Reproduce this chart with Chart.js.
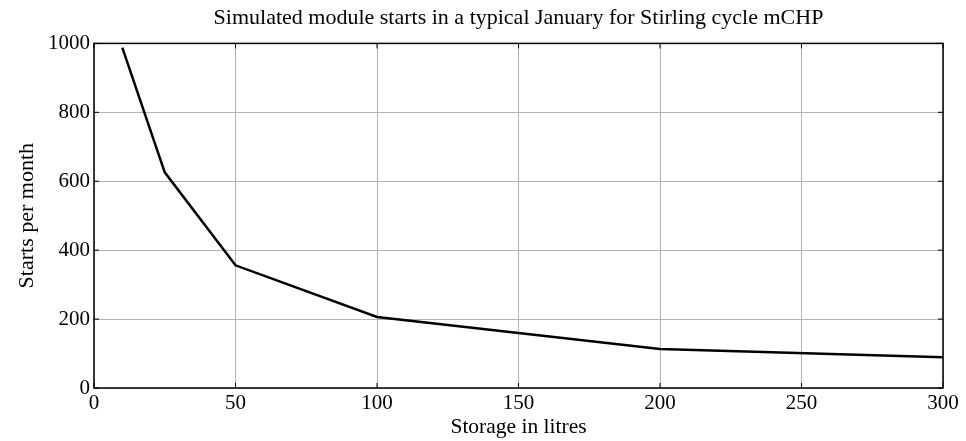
<!DOCTYPE html>
<html>
<head>
<meta charset="utf-8">
<script src="https://cdn.jsdelivr.net/npm/chart.js@4"></script>
<style>
html,body{margin:0;padding:0;background:#fff;}
#wrap{width:966px;height:441px;}
</style>
</head>
<body>
<div id="wrap"><canvas id="c" width="966" height="441"></canvas></div>
<script>
const storageLitres = [10, 25, 50, 100, 200, 300];
const startsPerMonth = [988, 626, 356, 206, 113, 89];
const xTicks = [0, 50, 100, 150, 200, 250, 300];
const yTicks = [0, 200, 400, 600, 800, 1000];
const chartTitle = 'Simulated module starts in a typical January for Stirling cycle mCHP';
const xTitle = 'Storage in litres';
const yTitle = 'Starts per month';

const points = storageLitres.map((x, i) => ({x: x, y: startsPerMonth[i]}));
const FONT = 'Liberation Serif, Times New Roman, serif';

const boxPlugin = {
  id: 'box',
  afterDraw(chart) {
    const a = chart.chartArea, ctx = chart.ctx;
    ctx.save();
    ctx.strokeStyle = '#000';
    ctx.lineWidth = 1.5;
    ctx.strokeRect(a.left, a.top, a.right - a.left, a.bottom - a.top);
    ctx.lineWidth = 1;
    const xs = chart.scales.x, ys = chart.scales.y;
    xTicks.forEach(v => {
      const px = xs.getPixelForValue(v);
      ctx.beginPath(); ctx.moveTo(px, a.bottom); ctx.lineTo(px, a.bottom - 5); ctx.stroke();
      ctx.beginPath(); ctx.moveTo(px, a.top); ctx.lineTo(px, a.top + 5); ctx.stroke();
    });
    yTicks.forEach(v => {
      const py = ys.getPixelForValue(v);
      ctx.beginPath(); ctx.moveTo(a.left, py); ctx.lineTo(a.left + 5, py); ctx.stroke();
      ctx.beginPath(); ctx.moveTo(a.right, py); ctx.lineTo(a.right - 5, py); ctx.stroke();
    });
    ctx.restore();
  }
};

new Chart(document.getElementById('c'), {
  type: 'scatter',
  data: {
    datasets: [{
      data: points,
      showLine: true,
      borderColor: '#000',
      borderWidth: 2.5,
      pointRadius: 0,
      fill: false,
      tension: 0
    }]
  },
  options: {
    responsive: false,
    animation: false,
    layout: {padding: {left: 0, right: 23, top: 0, bottom: 0}},
    plugins: {
      legend: {display: false},
      tooltip: {enabled: false},
      title: {
        display: true,
        fullSize: false,
        text: chartTitle,
        color: '#000',
        font: {family: FONT, size: 22, weight: 'normal'},
        padding: {top: 5, bottom: 12}
      }
    },
    scales: {
      x: {
        type: 'linear',
        min: 0, max: 300,
        afterFit(s) { s.height = 53; },
        afterBuildTicks(s) { s.ticks = xTicks.map(v => ({value: v})); },
        grid: {color: '#b4b4b4', lineWidth: 1, drawTicks: false},
        border: {display: false},
        ticks: {color: '#000', font: {family: FONT, size: 21}, padding: 3, maxRotation: 0,
                callback: v => String(v)},
        title: {display: true, text: xTitle, color: '#000', font: {family: FONT, size: 21.5}, padding: {top: 0, bottom: 1}}
      },
      y: {
        type: 'linear',
        min: 0, max: 1000,
        afterFit(s) { s.width = 94; },
        afterBuildTicks(s) { s.ticks = yTicks.map(v => ({value: v})); },
        grid: {color: '#b4b4b4', lineWidth: 1, drawTicks: false},
        border: {display: false},
        ticks: {color: '#000', font: {family: FONT, size: 21}, padding: 4,
                callback: v => String(v)},
        title: {display: true, text: yTitle, color: '#000', font: {family: FONT, size: 22}, padding: {top: 14, bottom: 0}}
      }
    }
  },
  plugins: [boxPlugin]
});
</script>
</body>
</html>
